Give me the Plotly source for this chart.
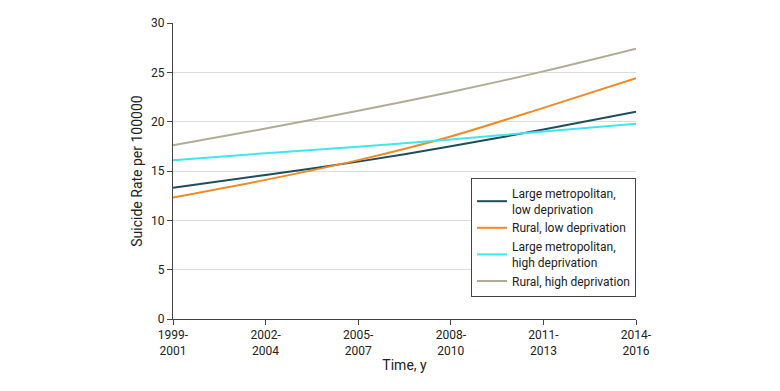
import plotly.graph_objects as go

periods = ["1999-<br>2001", "2002-<br>2004", "2005-<br>2007", "2008-<br>2010", "2011-<br>2013", "2014-<br>2016"]

large_metro_low = [13.3, 14.6, 15.95, 17.5, 19.2, 21.0]
rural_low = [12.3, 14.1, 16.1, 18.5, 21.4, 24.4]
large_metro_high = [16.1, 16.8, 17.45, 18.2, 19.0, 19.8]
rural_high = [17.6, 19.3, 21.1, 23.0, 25.1, 27.4]

series = [
    ("Large metropolitan,<br>low deprivation", large_metro_low, "#1e4d5b"),
    ("Rural, low deprivation", rural_low, "#ef8a24"),
    ("Large metropolitan,<br>high deprivation", large_metro_high, "#3fe6ec"),
    ("Rural, high deprivation", rural_high, "#b0ad96"),
]

FONT = "Roboto, sans-serif"

fig = go.Figure()
for name, vals, color in series:
    fig.add_trace(go.Scatter(
        x=list(range(len(periods))), y=vals, name=name, mode="lines",
        line=dict(color=color, width=2, shape="spline", smoothing=0.8),
    ))

fig.update_layout(
    width=780, height=391,
    margin=dict(l=165, r=152, t=15, b=80),
    paper_bgcolor="white", plot_bgcolor="white",
    font=dict(family=FONT, size=12, color="#222"),
    showlegend=True,
    legend=dict(
        x=1, y=0.074, xanchor="right", yanchor="bottom",
        bordercolor="#444", borderwidth=1, bgcolor="white",
        font=dict(size=12, color="#222"),
        tracegroupgap=0, itemwidth=30,
    ),
    xaxis=dict(
        tickmode="array", tickvals=list(range(len(periods))), ticktext=periods,
        range=[0, 5], showgrid=False, showline=True, linecolor="#444", linewidth=1,
        ticks="outside", ticklen=5, tickcolor="#444",
        title=dict(text="Time, y", standoff=3),
        zeroline=False, automargin=False,
    ),
    yaxis=dict(
        range=[0, 30], tickvals=[0, 5, 10, 15, 20, 25, 30],
        showgrid=True, gridcolor="#dcdcdc", gridwidth=1,
        showline=True, linecolor="#444", linewidth=1,
        ticks="outside", ticklen=5, tickcolor="#444",
        title=dict(text="Suicide Rate per 100000", standoff=5),
        zeroline=False, automargin=False,
    ),
)

fig.write_html("out.html")
